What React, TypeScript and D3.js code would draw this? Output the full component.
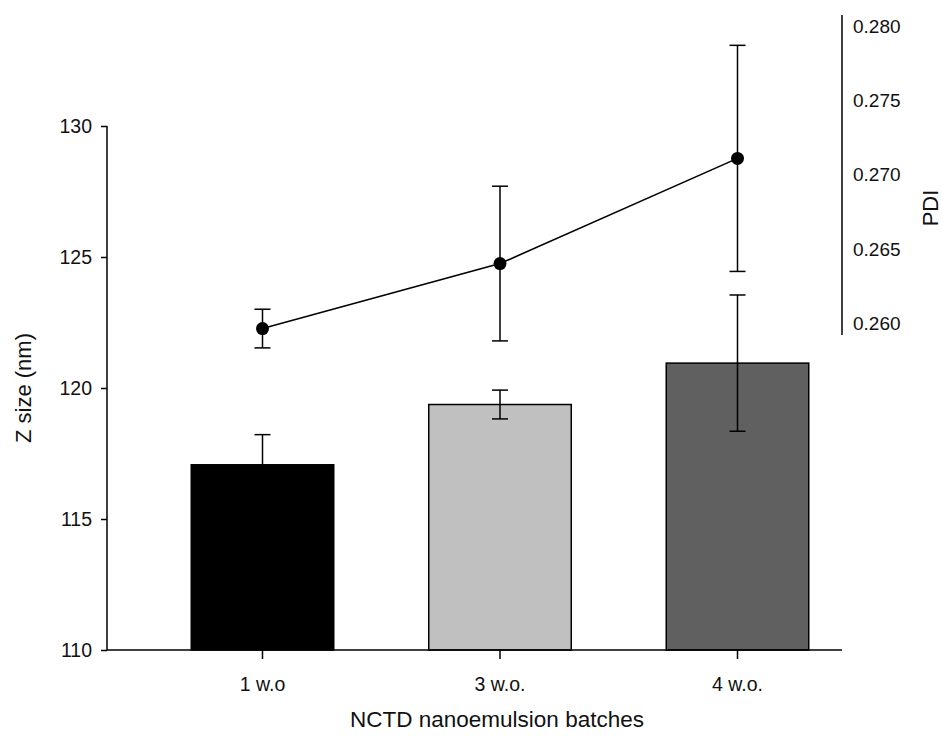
import React, { useEffect, useRef } from "react";
import * as d3 from "d3";

// batches on the x axis
const categories = ["1 w.o", "3 w.o.", "4 w.o."];
// Z size (nm), bars on the left axis
const zSize = [117.07, 119.37, 120.95];
const zSizeErr = [1.15, 0.55, 2.6];
const barColors = ["#000000", "#c0c0c0", "#606060"];
// PDI, line + points on the right axis
const pdi = [0.25966, 0.26403, 0.2711];
const pdiErr = [0.0013, 0.0052, 0.0076];

const leftTicks = [110, 115, 120, 125, 130];
const rightTicks = [0.26, 0.265, 0.27, 0.275, 0.28];

export default function App() {
  const svgRef = useRef<SVGSVGElement>(null);

  useEffect(() => {
    const w = 943;
    const h = 736;
    const font = "'Liberation Sans', Arial, sans-serif";
    const svg = d3.select(svgRef.current)
      .attr("width", w)
      .attr("height", h)
      .style("background", "#fff");
    svg.selectAll("*").remove();

    // scales
    const x = d3.scaleBand<string>()
      .domain(categories)
      .range([143.75, 856.25])
      .paddingInner(0.4)
      .paddingOuter(0.2);
    const yLeft = d3.scaleLinear().domain([110, 130]).range([650, 126]);
    const yRight = d3.scaleLinear().domain([0.26, 0.28]).range([323.5, 26]);

    const axisX0 = 107;
    const axisX1 = 842;

    // bars
    svg.selectAll(".bar")
      .data(zSize)
      .join("rect")
      .attr("x", (d, i) => x(categories[i])!)
      .attr("y", d => yLeft(d))
      .attr("width", x.bandwidth())
      .attr("height", d => yLeft(110) - yLeft(d))
      .attr("fill", (d, i) => barColors[i])
      .attr("stroke", "#000")
      .attr("stroke-width", 1.5);

    // bar error bars
    const cap = 8;
    const errG = svg.append("g").attr("stroke", "#000").attr("stroke-width", 1.5);
    zSize.forEach((d, i) => {
      const cx = x(categories[i])! + x.bandwidth() / 2;
      const y0 = yLeft(d - zSizeErr[i]);
      const y1 = yLeft(d + zSizeErr[i]);
      errG.append("line").attr("x1", cx).attr("x2", cx).attr("y1", y0).attr("y2", y1);
      errG.append("line").attr("x1", cx - cap).attr("x2", cx + cap).attr("y1", y0).attr("y2", y0);
      errG.append("line").attr("x1", cx - cap).attr("x2", cx + cap).attr("y1", y1).attr("y2", y1);
    });

    // left axis
    const yAxisL = d3.axisLeft(yLeft).tickValues(leftTicks).tickSize(6).tickPadding(9).tickFormat(d3.format("d"));
    const gl = svg.append("g").attr("transform", `translate(${axisX0},0)`).call(yAxisL);
    gl.select(".domain").attr("d", `M-0,${yLeft(130)}V${yLeft(110)}`).attr("stroke-width", 1.5);
    gl.selectAll(".tick line").attr("stroke-width", 1.5);
    gl.selectAll("text").style("font-family", font).style("font-size", "19.5px").attr("fill", "#111");

    // bottom axis
    const xAxis = d3.axisBottom(x).tickSize(9).tickPadding(18);
    const gb = svg.append("g").attr("transform", `translate(0,${yLeft(110)})`).call(xAxis);
    gb.select(".domain").attr("d", `M${axisX0},0H${axisX1}`).attr("stroke-width", 1.5);
    gb.selectAll(".tick line").attr("stroke-width", 1.5);
    gb.selectAll("text").style("font-family", font).style("font-size", "19.5px").attr("fill", "#111");

    // right axis (no tick marks)
    const yAxisR = d3.axisRight(yRight).tickValues(rightTicks).tickSize(0).tickPadding(11).tickFormat(d3.format(".3f"));
    const gr = svg.append("g").attr("transform", `translate(${axisX1},0)`).call(yAxisR);
    gr.select(".domain").attr("d", `M0,15V335`).attr("stroke-width", 1.5);
    gr.selectAll("text").style("font-family", font).style("font-size", "19px").attr("fill", "#111");

    // PDI line
    const line = d3.line<number>()
      .x((d, i) => x(categories[i])! + x.bandwidth() / 2)
      .y(d => yRight(d));
    svg.append("path")
      .datum(pdi)
      .attr("d", line)
      .attr("fill", "none")
      .attr("stroke", "#000")
      .attr("stroke-width", 1.6);

    // PDI error bars + points
    const pG = svg.append("g").attr("stroke", "#000").attr("stroke-width", 1.5);
    pdi.forEach((d, i) => {
      const cx = x(categories[i])! + x.bandwidth() / 2;
      const y0 = yRight(d - pdiErr[i]);
      const y1 = yRight(d + pdiErr[i]);
      pG.append("line").attr("x1", cx).attr("x2", cx).attr("y1", y0).attr("y2", y1);
      pG.append("line").attr("x1", cx - cap).attr("x2", cx + cap).attr("y1", y0).attr("y2", y0);
      pG.append("line").attr("x1", cx - cap).attr("x2", cx + cap).attr("y1", y1).attr("y2", y1);
    });
    svg.selectAll(".pt")
      .data(pdi)
      .join("circle")
      .attr("cx", (d, i) => x(categories[i])! + x.bandwidth() / 2)
      .attr("cy", d => yRight(d))
      .attr("r", 6.5)
      .attr("fill", "#000");

    // axis titles
    svg.append("text")
      .attr("transform", `translate(31,${(yLeft(110) + yLeft(130)) / 2}) rotate(-90)`)
      .attr("text-anchor", "middle")
      .style("font-family", font)
      .style("font-size", "22px")
      .attr("fill", "#111")
      .text("Z size (nm)");
    svg.append("text")
      .attr("transform", `translate(938,208) rotate(-90)`)
      .attr("text-anchor", "middle")
      .style("font-family", font)
      .style("font-size", "22px")
      .attr("fill", "#111")
      .text("PDI");
    svg.append("text")
      .attr("x", 497)
      .attr("y", 727)
      .attr("text-anchor", "middle")
      .style("font-family", font)
      .style("font-size", "22.5px")
      .attr("fill", "#111")
      .text("NCTD nanoemulsion batches");
  }, []);

  return (
    <div className="Graph">
      <svg ref={svgRef} style={{ position: "absolute", left: 0, top: 0 }}></svg>
    </div>
  );
}
